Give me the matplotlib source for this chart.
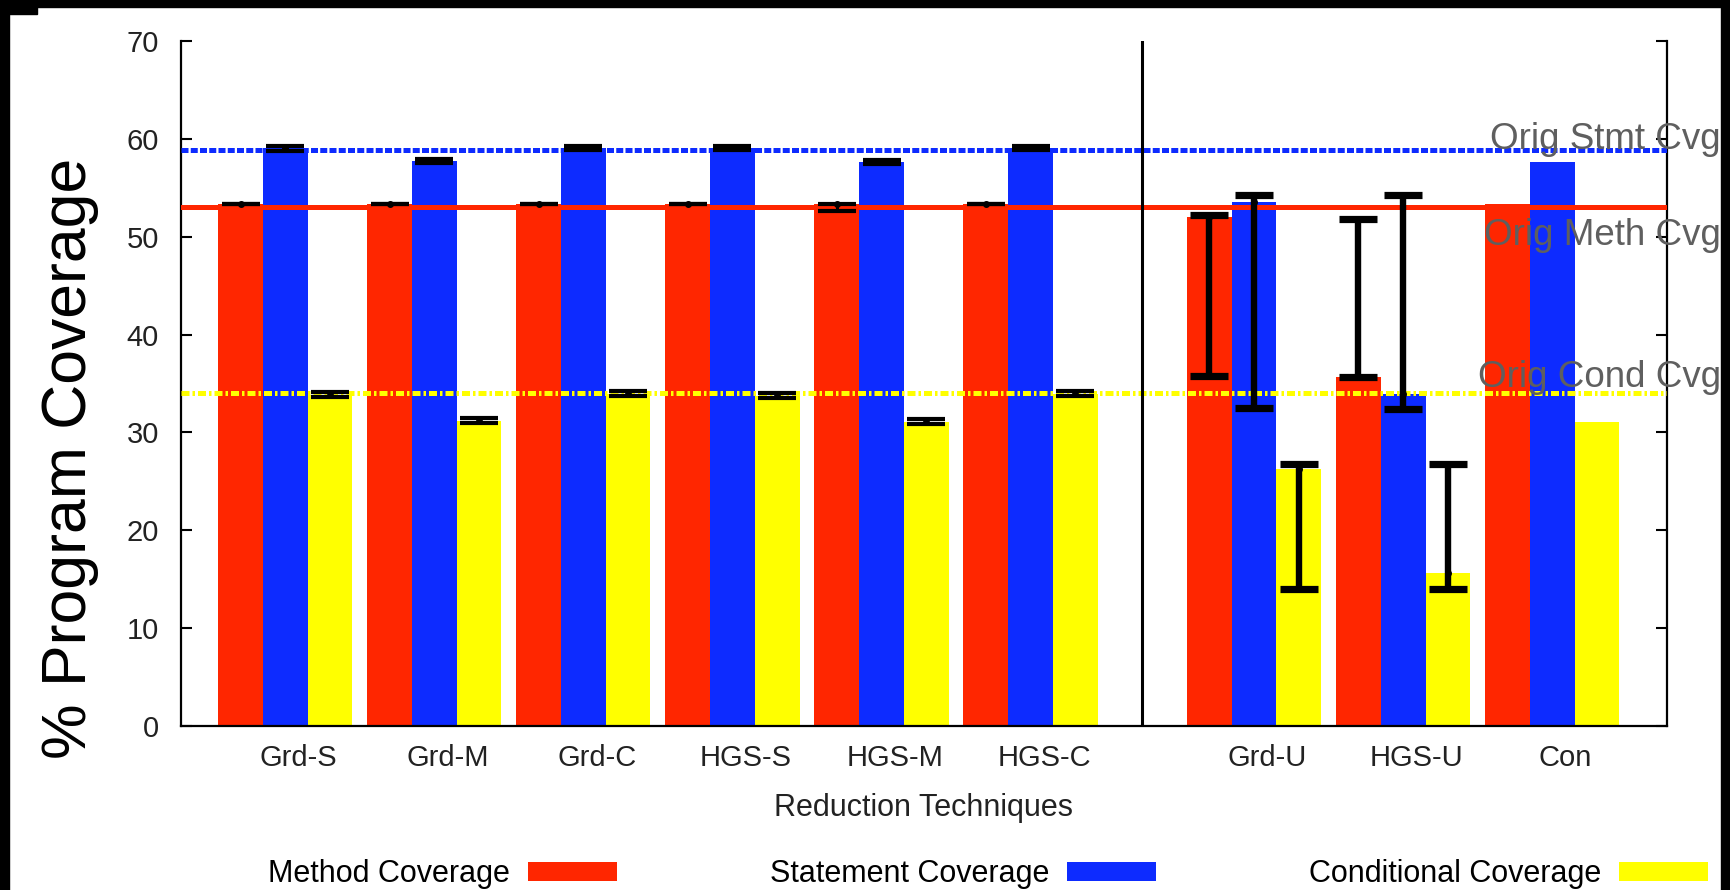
import matplotlib
matplotlib.use("Agg")
import matplotlib.pyplot as plt
from matplotlib.patches import Rectangle
import numpy as np

plt.rcParams['font.family'] = ['Liberation Sans', 'DejaVu Sans']

# data
techniques = ['Grd-S', 'Grd-M', 'Grd-C', 'HGS-S', 'HGS-M', 'HGS-C', 'Grd-U', 'HGS-U', 'Con']
positions = [0, 1, 2, 3, 4, 5, 6.5, 7.5, 8.5]

method = [53.3, 53.3, 53.3, 53.3, 53.3, 53.3, 52.0, 35.7, 53.3]
method_lo = [53.3, 53.3, 53.3, 53.3, 52.6, 53.3, 35.8, 35.7, None]
method_hi = [53.3, 53.3, 53.3, 53.3, 53.3, 53.3, 52.2, 51.8, None]

statement = [59.1, 57.7, 59.1, 59.1, 57.6, 59.1, 53.5, 33.9, 57.6]
statement_lo = [58.8, 57.5, 58.9, 58.9, 57.4, 58.9, 32.5, 32.4, None]
statement_hi = [59.3, 57.9, 59.3, 59.3, 57.8, 59.3, 54.3, 54.3, None]

conditional = [33.8, 31.2, 33.9, 33.7, 31.1, 33.9, 26.3, 15.6, 31.1]
conditional_lo = [33.6, 31.0, 33.7, 33.5, 30.9, 33.7, 14.0, 14.0, None]
conditional_hi = [34.1, 31.5, 34.2, 34.0, 31.4, 34.2, 26.8, 26.8, None]

orig_stmt = 58.9
orig_meth = 53.0
orig_cond = 34.0

RED = '#ff2600'
BLUE = '#0d2bff'
YELLOW = '#ffff00'

fig = plt.figure(figsize=(17.3, 8.9), dpi=100)
ax = fig.add_axes([181/1730, 1 - 726/890, (1667-181)/1730, (726-41)/890])

x = np.array(positions, dtype=float)
w = 0.30

series = [
    ('Method Coverage', method, method_lo, method_hi, RED, -w),
    ('Statement Coverage', statement, statement_lo, statement_hi, BLUE, 0.0),
    ('Conditional Coverage', conditional, conditional_lo, conditional_hi, YELLOW, w),
]

handles = []
for label, vals, lo, hi, col, off in series:
    b = ax.bar(x + off, vals, width=w, color=col, edgecolor='none', label=label, zorder=2)
    handles.append(b)
    # thin bars for the narrow-range groups, heavy ones for the unreduced groups
    for idx, elw, cth in [([i for i in range(6) if lo[i] is not None], 2.2, 3.0),
                          ([i for i in range(6, len(vals)) if lo[i] is not None], 4.6, 5.2)]:
        v = np.array([vals[i] for i in idx])
        l = np.array([lo[i] for i in idx])
        h = np.array([hi[i] for i in idx])
        ax.errorbar(x[idx] + off, v, yerr=[v - l, h - v], fmt='o', ms=4, color='black',
                    ecolor='black', elinewidth=elw, capsize=14, capthick=cth, zorder=5)

# original coverage reference lines
ax.axhline(orig_stmt, color=BLUE, lw=3.6, ls=(0, (1.4, 0.45)), zorder=4)
ax.axhline(orig_meth, color=RED, lw=3.6, zorder=4)
ax.axhline(orig_cond, color=YELLOW, lw=3.6, ls=(0, (1.6, 0.6, 0.5, 0.6)), zorder=4)
ax.axvline(5.75, color='black', lw=2.2, zorder=4)

gray = '#5f5f5f'
ax.text(9.63, 59.0, 'Orig Stmt Cvg', ha='right', va='baseline', fontsize=26.5, color=gray, zorder=6, clip_on=False)
ax.text(9.63, 49.2, 'Orig Meth Cvg', ha='right', va='baseline', fontsize=26.5, color=gray, zorder=6, clip_on=False)
ax.text(9.63, 34.6, 'Orig Cond Cvg', ha='right', va='baseline', fontsize=26.5, color=gray, zorder=6, clip_on=False)

ax.set_xlim(-0.70, 9.27)
ax.set_ylim(0, 70)
ax.set_yticks(range(0, 71, 10))
ax.set_xticks(x + 0.09)
ax.set_xticklabels(techniques)
ax.tick_params(axis='x', length=0, pad=13, labelsize=21, labelcolor='#222222')
ax.tick_params(axis='y', direction='in', length=8, width=1.5, pad=16, labelsize=21,
               labelcolor='#222222', right=True)
ax.spines['top'].set_visible(False)
for s in ['left', 'right', 'bottom']:
    ax.spines[s].set_linewidth(1.6)

ax.set_xlabel('Reduction Techniques', fontsize=22, color='#222222', labelpad=15)
fig.text(70/1730, 1 - 458/890, '% Program Coverage', rotation=90, ha='center', va='center', fontsize=45)

ax.legend(handles=handles, loc='center', bbox_to_anchor=(988/1730, 1 - 874/890),
          bbox_transform=fig.transFigure, ncol=3, frameon=False, markerfirst=False,
          fontsize=22, handlelength=2.9, handleheight=0.6, handletextpad=0.6,
          columnspacing=5.0, borderpad=0.1)

# black frame remnants around the screenshot
for rx, ry, rw, rh in [(0, 0, 9, 890), (0, 0, 1730, 7), (1721, 0, 9, 890), (0, 0, 37, 14)]:
    fig.patches.append(Rectangle((rx/1730, 1 - (ry + rh)/890), rw/1730, rh/890,
                                 transform=fig.transFigure, color='black', zorder=10))

fig.savefig('out.png', dpi=100)
